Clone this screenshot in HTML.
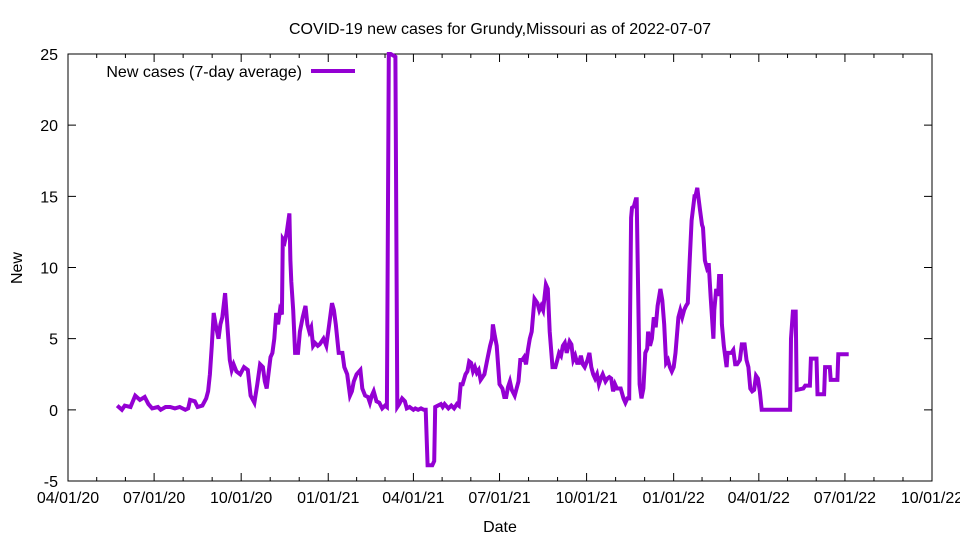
<!DOCTYPE html>
<html><head><meta charset="utf-8"><style>
body{margin:0;background:#fff}
svg text{font-family:"Liberation Sans",sans-serif;font-size:16px;fill:#000}
</style></head><body>
<svg id="chart" width="960" height="540" xmlns="http://www.w3.org/2000/svg">
<rect width="960" height="540" fill="#fff"/>
<text x="500" y="34" text-anchor="middle">COVID-19 new cases for Grundy,Missouri as of 2022-07-07</text>
<text x="500" y="532" text-anchor="middle">Date</text>
<text x="22" y="268" text-anchor="middle" transform="rotate(-90 22 268)">New</text>
<g id="axes"></g>
<g id="series"></g>
<g>
<text x="302" y="77" text-anchor="end">New cases (7-day average)</text>
<line x1="311" y1="71" x2="355" y2="71" stroke="#9400d3" stroke-width="4"/>
</g>
</svg>
<script>
// days since 2020-04-01
const days=[52,57,60,66,71,76,81,85,89,95,98,103,108,113,118,124,127,129,134,137,142,146,148,150,152,154,156,159,161,163,166,168,171,173,175,178,182,186,190,193,197,200,203,206,208,210,214,216,218,220,222,224,226,227,229,231,234,235,236,238,240,243,245,248,251,253,255,257,259,261,264,266,270,273,276,279,281,283,286,290,292,295,298,300,302,305,309,311,314,317,319,321,323,326,329,332,335,337,339,341,346,348,350,353,356,358,361,365,367,370,373,376,378,380,385,387,388,391,394,396,398,402,405,408,411,413,415,417,420,422,424,426,428,430,432,434,436,440,443,446,448,449,451,453,456,459,461,463,465,467,469,472,476,478,480,482,484,486,488,490,493,496,498,500,502,505,507,509,512,515,517,519,521,523,525,527,530,532,534,536,538,540,542,544,546,549,551,553,555,557,559,561,563,565,568,570,572,574,576,578,580,582,584,587,589,591,593,595,596,598,600,601,604,606,608,610,612,613,615,617,619,621,623,626,628,630,632,634,636,638,640,642,645,647,649,651,653,655,657,659,662,663,665,666,668,670,671,673,675,677,679,682,683,685,687,688,690,691,693,696,697,699,701,703,705,707,710,712,715,717,719,721,723,725,727,729,731,733,763,764,766,769,770,777,779,784,785,791,792,799,800,805,806,813,814,825];
const cases=[0.3,0.0,0.3,0.2,1.0,0.7,0.9,0.4,0.1,0.2,0.0,0.2,0.2,0.1,0.2,0.0,0.1,0.7,0.6,0.2,0.3,0.8,1.3,2.5,4.5,6.8,6.0,5.0,6.0,6.5,8.2,6.3,3.5,2.8,3.2,2.7,2.5,3.0,2.8,1.0,0.5,1.8,3.2,3.0,2.0,1.5,3.7,4.0,5.0,6.8,6.0,7.0,6.7,12.0,11.8,12.4,13.8,10.5,9.0,7.0,4.0,4.0,5.5,6.5,7.3,6.0,5.5,5.8,4.5,4.7,4.5,4.6,5.0,4.5,6.0,7.5,7.0,6.0,4.0,4.0,3.0,2.5,1.0,1.3,2.0,2.5,2.8,1.5,1.0,0.9,0.5,1.0,1.3,0.6,0.5,0.1,0.3,0.2,25,25,24.8,0.2,0.4,0.8,0.6,0.1,0.2,0.0,0.1,0.0,0.1,0.0,0.0,-3.9,-3.9,-3.6,0.2,0.3,0.4,0.2,0.4,0.1,0.3,0.1,0.4,0.3,1.8,1.8,2.5,2.7,3.4,3.3,2.7,3.0,2.6,2.8,2.1,2.5,3.5,4.5,5.0,6.0,5.2,4.5,1.8,1.5,0.9,0.9,1.6,2.0,1.4,1.0,2.0,3.5,3.5,3.7,3.2,4.2,5.0,5.5,7.8,7.5,7.0,7.3,7.0,8.8,8.5,5.5,3.0,3.0,3.5,4.0,3.8,4.5,4.7,4.0,4.8,4.6,3.5,3.8,3.3,3.3,3.8,3.2,3.0,3.5,4.0,3.0,2.5,2.2,2.5,1.8,2.2,2.5,2.0,2.2,2.3,2.2,1.3,1.8,1.5,1.5,1.5,0.8,0.5,0.8,0.8,13.5,14.2,14.3,14.8,14.8,1.8,0.8,1.5,4.0,4.3,5.5,4.5,5.0,6.5,5.8,7.3,8.5,7.7,6.0,3.3,3.5,3.0,2.7,3.0,4.0,6.5,7.0,6.5,7.0,7.3,7.5,10.5,13.3,15.0,15.0,15.6,15.0,14.0,13.0,12.8,10.5,10.0,10.3,8.0,5.0,7.0,8.5,8.0,9.4,9.4,6.0,4.5,3.0,4.0,4.0,4.0,4.2,3.2,3.2,3.5,4.6,4.6,3.5,3.0,1.5,1.3,1.4,2.4,2.2,1.3,0.0,0.0,5.0,6.9,6.9,1.4,1.5,1.7,1.7,3.6,3.6,1.1,1.1,3.0,3.0,2.1,2.1,3.9,3.9];
const yTicks=[-5,0,5,10,15,20,25];
const xTickDays=[0,91,183,275,365,456,548,640,730,821,913];
const xTickLabels=["04/01/20","07/01/20","10/01/20","01/01/21","04/01/21","07/01/21","10/01/21","01/01/22","04/01/22","07/01/22","10/01/22"];
const L=68,R=932,T=54,B=481,DMAX=913,YMIN=-5,YMAX=25;
const xs=d=>L+d*(R-L)/DMAX;
const ys=v=>B-(v-YMIN)*(B-T)/(YMAX-YMIN);
const NS="http://www.w3.org/2000/svg";
const ax=document.getElementById('axes');
function mk(tag,attrs,parent){const e=document.createElementNS(NS,tag);for(const k in attrs)e.setAttribute(k,attrs[k]);parent.appendChild(e);return e;}
const frame=mk('rect',{x:L,y:T,width:R-L,height:B-T,fill:'none',stroke:'#000','stroke-width':1},ax);


yTicks.forEach(v=>{
  const y=ys(v);
  const t=mk('path',{d:`M${L} ${y}h8M${R} ${y}h-8`,stroke:'#000'},ax);
  
  
  const tx=mk('text',{x:L-10,y:y+6,'text-anchor':'end'},ax);tx.textContent=v;
  
  
});
xTickDays.forEach((d,i)=>{
  const x=xs(d);
  const t=mk('path',{d:`M${x} ${B}v-8M${x} ${T}v8`,stroke:'#000'},ax);
  
  
  const tx=mk('text',{x:x,y:B+22,'text-anchor':'middle'},ax);tx.textContent=xTickLabels[i];
  
  
  if(i<xTickDays.length-1){
    const step=(xTickDays[i+1]-d)/3;
    for(let k=1;k<3;k++){
      const mx=xs(d+step*k);
      const m=mk('path',{d:`M${mx} ${B}v-4M${mx} ${T}v4`,stroke:'#000'},ax);
      
      
    }
  }
});
const pts=days.map((d,i)=>xs(d).toFixed(1)+','+ys(cases[i]).toFixed(1)).join(' ');
const line=mk('polyline',{points:pts,fill:'none',stroke:'#9400d3','stroke-width':4,'stroke-linejoin':'miter'},document.getElementById('series'));


</script>
</body></html>
